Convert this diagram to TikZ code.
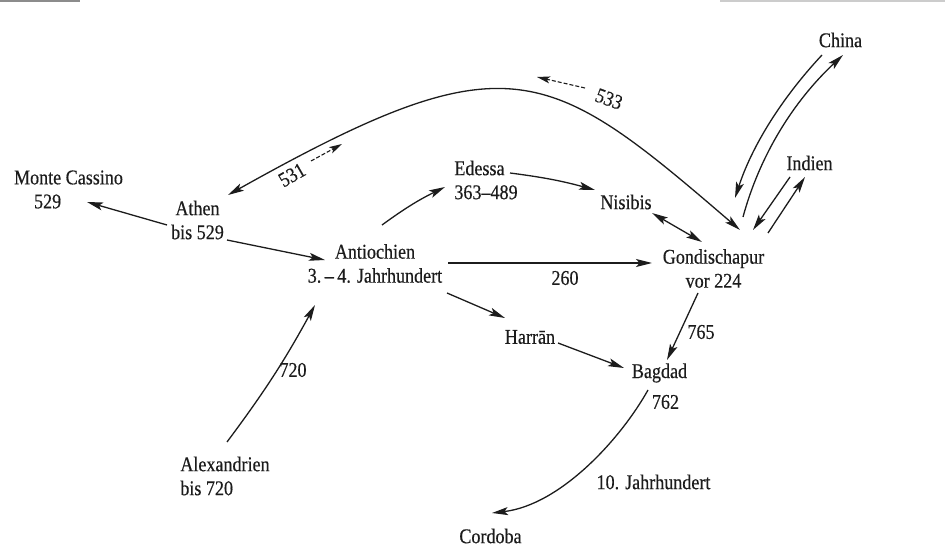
\documentclass[tikz,border=0pt]{standalone}
\usepackage{fontspec}
\setmainfont{Liberation Serif}[FakeStretch=0.86,FakeBold=0.4]
\usetikzlibrary{arrows.meta,calc}
\definecolor{ink}{HTML}{1c1c1c}
\begin{document}
\begin{tikzpicture}[x=1pt,y=-1pt,
  every node/.style={inner sep=0pt,text=ink,font=\fontsize{21}{24}\selectfont},
  place/.style={align=center},
  lplace/.style={align=left},
  lbl/.style={font=\fontsize{21}{24}\selectfont},
  tip/.tip={Stealth[length=16pt,width=8pt,inset=3.5pt]},
  conn/.style={draw=ink,line width=1.3pt,-tip},
  both/.style={draw=ink,line width=1.3pt,tip-tip},
  dconn/.style={draw=ink,line width=1.1pt,dash pattern=on 4pt off 2pt,-{Stealth[length=13pt,width=7pt,inset=3pt]}}]
\useasboundingbox (0,0) rectangle (945,553);
% scan edges
\fill[black!45] (0,0) rectangle (80,2);
\fill[black!20] (720,0) rectangle (945,2);

% places
\node[lplace] (mc) at (68.5,189.5) {Monte Cassino\\\hspace*{20pt}529};
\node[place] (athen) at (197.5,220) {Athen\\bis 529};
\node[place] (antioch) at (375,263.5) {Antiochien\\3.\,–\,4. Jahrhundert};
\node[lplace] (edessa) at (486,180) {Edessa\\363–489};
\node[place] (nisibis) at (626,202) {Nisibis};
\node[place] (gondi) at (713.5,268.5) {Gondischapur\\vor 224};
\node[place] (china) at (840.5,40) {China};
\node[place] (indien) at (809.5,163) {Indien};
\node[place] (harran) at (530,337) {Harrān};
\node[place] (bagdad) at (659.5,373) {Bagdad};
\node[place] (bagdadyr) at (665.5,402) {762};
\node[lplace] (alex) at (225,476) {Alexandrien\\bis 720};
\node[place] (cordoba) at (490.5,536) {Cordoba};

% labels
\node[lbl,rotate=30] (l531) at (292,175) {531};
\node[lbl,rotate=-20] (l533) at (609,99) {533};
\node[lbl] (l260) at (565,278) {260};
\node[lbl] (l765) at (701,332) {765};
\node[lbl] (l720) at (293,370) {720};
\node[lbl] (l10) at (653.5,482) {10. Jahrhundert};
\coordinate (c531) at (342,144);
\coordinate (c533) at (537,77);

% connectors
\draw[conn] ([shift={(-30.5,5)}]athen.center) -- ([shift={(18.5,12.5)}]mc.center);
\draw[conn] ([shift={(29.5,20)}]athen.center) -- ([shift={(-50,-3.5)}]antioch.center);
\draw[conn] ([shift={(7,-38.5)}]antioch.center) to[bend left=5] ([shift={(-41,7)}]edessa.center);
\draw[conn] ([shift={(24,-7)}]edessa.center) to[bend left=4] ([shift={(-31,-12)}]nisibis.center);
\draw[both] ([shift={(26,11)}]nisibis.center) -- ([shift={(-11.5,-26.5)}]gondi.center);
\draw[conn] ([shift={(73,-0.5)}]antioch.center) -- ([shift={(-61.5,-5.5)}]gondi.center);
\draw[conn] ([shift={(72,29.5)}]antioch.center) -- ([shift={(-25,-19)}]harran.center);
\draw[conn] ([shift={(28,6)}]harran.center) -- ([shift={(-35.5,-5)}]bagdad.center);
\draw[conn] ([shift={(-15.5,24.5)}]gondi.center) -- ([shift={(7.5,-13)}]bagdad.center);
\draw[conn] ([shift={(-11.5,17)}]bagdad.center) .. controls (620,440) and (560,505) .. ([shift={(1.5,-23)}]cordoba.center);
\draw[conn] ([shift={(2,-34)}]alex.center) to[bend right=4] ([shift={(-60,41.5)}]antioch.center);
\draw[both] ([shift={(30.5,-25)}]athen.center) .. controls (508,38) and (546.5,63.5) .. ([shift={(26.5,-38.5)}]gondi.center);
\draw[conn] ([shift={(-18.5,15)}]china.center) .. controls (780.7,99.2) and (751.7,146.9) .. ([shift={(21.5,-70.5)}]gondi.center);
\draw[conn] ([shift={(29.5,-51.5)}]gondi.center) .. controls (759.7,155.6) and (793.1,101.6) .. ([shift={(2.5,15)}]china.center);
\draw[conn] ([shift={(-19.5,14)}]indien.center) -- ([shift={(39.5,-38.5)}]gondi.center);
\draw[conn] ([shift={(54.5,-35.5)}]gondi.center) -- ([shift={(-4.5,14)}]indien.center);
\draw[dconn] ([shift={(19,-14)}]l531.center) -- (c531);
\draw[dconn] ([shift={(-24,-11)}]l533.center) -- (c533);
\end{tikzpicture}
\end{document}
